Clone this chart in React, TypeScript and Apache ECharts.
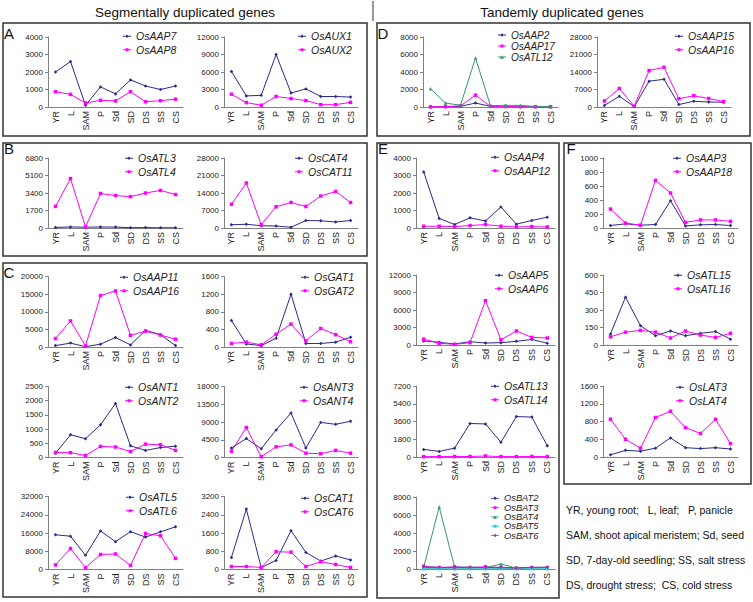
import React, { useEffect, useRef } from "react";
import * as echarts from "echarts";

const CATS = ["YR", "L", "SAM", "P", "Sd", "SD", "DS", "SS", "CS"];

// Panel A
const OsAAP7 = [2000, 2600, 100, 1150, 750, 1550, 1200, 1000, 1200];
const OsAAP8 = [870, 720, 230, 380, 350, 870, 300, 360, 450];
const OsAUX1 = [6100, 1900, 2000, 9000, 2400, 3100, 1800, 1800, 1700];
const OsAUX2 = [2200, 750, 300, 1800, 1450, 1100, 400, 400, 800];
// Panel B
const OsATL3 = [60, 100, 80, 100, 90, 30, 40, 20, 20];
const OsATL4 = [2100, 4800, 100, 3350, 3150, 3050, 3400, 3650, 3250];
const OsCAT4 = [1300, 1500, 900, 800, 300, 3000, 2900, 2400, 3000];
const OsCAT11 = [9500, 18000, 1300, 8500, 10200, 8600, 12800, 14600, 10200];
// Panel C
const OsAAP11 = [400, 1100, 100, 800, 2700, 600, 4700, 3500, 400];
const OsAAP16 = [2400, 7400, 300, 14600, 15900, 3300, 4500, 3400, 2200];
const OsGAT1 = [600, 70, 30, 200, 1200, 80, 80, 110, 220];
const OsGAT2 = [80, 110, 50, 290, 520, 140, 420, 280, 120];
const OsANT1 = [150, 800, 660, 1150, 1900, 410, 250, 350, 400];
const OsANT2 = [175, 170, 70, 390, 370, 210, 470, 450, 250];
const OsANT3 = [2400, 4800, 2200, 7000, 11300, 2400, 8900, 8400, 9200];
const OsANT4 = [1600, 7600, 200, 2700, 3200, 1100, 950, 1800, 1100];
const OsATL5 = [15200, 14600, 6200, 16900, 12200, 16600, 14200, 16500, 18700];
const OsATL6 = [2000, 9200, 800, 6600, 6800, 1800, 15800, 14800, 4900];
const OsCAT1 = [530, 2650, 80, 400, 1700, 750, 370, 590, 420];
const OsCAT6 = [130, 130, 90, 780, 760, 130, 340, 220, 90];
// Panel D
const OsAAP2 = [10, 20, 80, 450, 80, 50, 30, 20, 20];
const OsAAP17 = [20, 40, 130, 1350, 70, 50, 40, 30, 30];
const OsATL12 = [2100, 450, 200, 5600, 150, 200, 180, 60, 40];
const OsAAP15 = [600, 4300, 150, 10300, 11100, 1000, 2300, 2000, 1900];
// Panel E
const OsAAP4 = [3200, 550, 200, 580, 400, 1200, 220, 430, 620];
const OsAAP12 = [100, 100, 80, 140, 200, 100, 60, 80, 60];
const OsAAP5 = [700, 460, 170, 570, 340, 400, 630, 950, 300];
const OsAAP6 = [1000, 300, 100, 400, 7600, 900, 2400, 1300, 1200];
const OsATL13 = [770, 570, 900, 3400, 3350, 1500, 4100, 4050, 1150];
const OsATL14 = [40, 40, 50, 50, 100, 40, 40, 50, 40];
const OsBAT2 = [150, 100, 150, 100, 150, 100, 100, 150, 150];
const OsBAT3 = [300, 150, 250, 150, 250, 150, 100, 150, 150];
const OsBAT4 = [200, 6900, 200, 200, 150, 550, 100, 150, 150];
const OsBAT5 = [40, 30, 20, 30, 30, 40, 30, 30, 30];
const OsBAT6 = [250, 200, 150, 200, 150, 200, 100, 200, 200];
// Panel F
const OsAAP3 = [35, 60, 40, 50, 390, 30, 45, 50, 35];
const OsAAP18 = [270, 70, 40, 680, 500, 80, 115, 115, 95];
const OsATL15 = [95, 410, 165, 80, 120, 80, 100, 115, 50];
const OsATL16 = [70, 110, 125, 110, 60, 120, 85, 65, 100];
const OsLAT3 = [50, 150, 130, 200, 430, 210, 190, 210, 180];
const OsLAT4 = [850, 400, 200, 890, 1030, 660, 530, 850, 300];

const NAVY = "#2a2a8a";
const MAG = "#ff00ff";
const GREEN = "#339966";
const CYAN = "#33cccc";
const PURPLE = "#993399";
const FONT = '"Liberation Sans", Arial, sans-serif';

const ICONS: Record<string, string> = {
  diamond: "path://M0,2h12v1.25h-12z M6,0l2.5,2.625l-2.5,2.625l-2.5,-2.625z",
  rect: "path://M0,2h12v1.25h-12z M4,0.5h4.25v4.25h-4.25z",
  triangle: "path://M0,2h12v1.25h-12z M6,0l3,5.25h-6z",
};

type S = { name: string; data: number[]; color: string; symbol: string };
type C = {
  left: number; top: number; width: number; height: number;
  max: number; interval: number; series: S[];
  lx: number; ly: number; step?: number; fs?: number;
};

const nv = (name: string, data: number[]): S => ({ name, data, color: NAVY, symbol: "diamond" });
const mg = (name: string, data: number[]): S => ({ name, data, color: MAG, symbol: "rect" });
const gr = (name: string, data: number[]): S => ({ name, data, color: GREEN, symbol: "triangle" });
const cy = (name: string, data: number[]): S => ({ name, data, color: CYAN, symbol: "rect" });
const pu = (name: string, data: number[]): S => ({ name, data, color: PURPLE, symbol: "diamond" });

const XL = 48, WL = 135, XR = 224, WR = 134;

const CHARTS: C[] = [
  // A
  { left: XL, top: 37, width: WL, height: 70, max: 4000, interval: 1000, series: [nv("OsAAP7", OsAAP7), mg("OsAAP8", OsAAP8)], lx: 135, ly: 36 },
  { left: XR, top: 37, width: WR, height: 70, max: 12000, interval: 3000, series: [nv("OsAUX1", OsAUX1), mg("OsAUX2", OsAUX2)], lx: 310, ly: 36 },
  // B
  { left: XL, top: 158, width: WL, height: 70, max: 6800, interval: 1700, series: [nv("OsATL3", OsATL3), mg("OsATL4", OsATL4)], lx: 137, ly: 158 },
  { left: XR, top: 158, width: WR, height: 70, max: 28000, interval: 7000, series: [nv("OsCAT4", OsCAT4), mg("OsCAT11", OsCAT11)], lx: 307, ly: 158 },
  // C
  { left: XL, top: 276.5, width: WL, height: 70.5, max: 20000, interval: 5000, series: [nv("OsAAP11", OsAAP11), mg("OsAAP16", OsAAP16)], lx: 132, ly: 277 },
  { left: XR, top: 276.5, width: WR, height: 70.5, max: 1600, interval: 400, series: [nv("OsGAT1", OsGAT1), mg("OsGAT2", OsGAT2)], lx: 313, ly: 277 },
  { left: XL, top: 386.5, width: WL, height: 71, max: 2500, interval: 500, series: [nv("OsANT1", OsANT1), mg("OsANT2", OsANT2)], lx: 137, ly: 387 },
  { left: XR, top: 386.5, width: WR, height: 71, max: 18000, interval: 4500, series: [nv("OsANT3", OsANT3), mg("OsANT4", OsANT4)], lx: 312, ly: 387 },
  { left: XL, top: 496.5, width: WL, height: 73, max: 32000, interval: 8000, series: [nv("OsATL5", OsATL5), mg("OsATL6", OsATL6)], lx: 138, ly: 497 },
  { left: XR, top: 496.5, width: WR, height: 73, max: 3200, interval: 800, series: [nv("OsCAT1", OsCAT1), mg("OsCAT6", OsCAT6)], lx: 313, ly: 498 },
  // D
  { left: 423, top: 37, width: 135, height: 70, max: 8000, interval: 2000, series: [nv("OsAAP2", OsAAP2), mg("OsAAP17", OsAAP17), gr("OsATL12", OsATL12)], lx: 510, ly: 35, step: 11, fs: 10 },
  { left: 597, top: 37, width: 134, height: 70, max: 28000, interval: 7000, series: [nv("OsAAP15", OsAAP15), mg("OsAAP16", OsAAP16)], lx: 687, ly: 36 },
  // E
  { left: 416, top: 158, width: 139, height: 70, max: 4000, interval: 1000, series: [nv("OsAAP4", OsAAP4), mg("OsAAP12", OsAAP12)], lx: 503, ly: 157 },
  { left: 416, top: 275, width: 139, height: 70, max: 12000, interval: 3000, series: [nv("OsAAP5", OsAAP5), mg("OsAAP6", OsAAP6)], lx: 507, ly: 275 },
  { left: 416, top: 386, width: 139, height: 71, max: 7200, interval: 1800, series: [nv("OsATL13", OsATL13), mg("OsATL14", OsATL14)], lx: 503, ly: 386 },
  { left: 416, top: 497, width: 139, height: 72, max: 8000, interval: 2000, series: [nv("OsBAT2", OsBAT2), mg("OsBAT3", OsBAT3), gr("OsBAT4", OsBAT4), cy("OsBAT5", OsBAT5), pu("OsBAT6", OsBAT6)], lx: 503, ly: 498.5, step: 9.3, fs: 9.3 },
  // F
  { left: 603, top: 158, width: 135, height: 70, max: 1000, interval: 200, series: [nv("OsAAP3", OsAAP3), mg("OsAAP18", OsAAP18)], lx: 685, ly: 158 },
  { left: 603, top: 275, width: 135, height: 70, max: 600, interval: 150, series: [nv("OsATL15", OsATL15), mg("OsATL16", OsATL16)], lx: 686, ly: 275 },
  { left: 603, top: 386, width: 135, height: 71, max: 1600, interval: 400, series: [nv("OsLAT3", OsLAT3), mg("OsLAT4", OsLAT4)], lx: 688, ly: 387 },
];

const NOTES = [
  "YR, young root;   L, leaf;   P, panicle",
  "SAM, shoot apical meristem; Sd, seed",
  "SD, 7-day-old seedling; SS, salt stress",
  "DS, drought stress;  CS, cold stress",
];

const BOXES = [
  [3, 23, 364, 113], // A
  [3, 143, 364, 113], // B
  [3, 263, 364, 334], // C
  [377, 23, 373, 113], // D
  [377, 143, 182, 455], // E
  [564, 143, 187, 341], // F
];

const LETTERS: [string, number, number][] = [
  ["A", 9, 33], ["B", 9, 148], ["C", 9, 272], ["D", 383, 33], ["E", 383, 148], ["F", 571, 148],
];

function buildOption() {
  const grid: any[] = [], xAxis: any[] = [], yAxis: any[] = [], series: any[] = [], legend: any[] = [];
  CHARTS.forEach((c, i) => {
    grid.push({ left: c.left, top: c.top, width: c.width, height: c.height });
    xAxis.push({
      type: "category", gridIndex: i, data: CATS, boundaryGap: true,
      axisLine: { lineStyle: { color: "#808080", width: 1 } },
      axisTick: { length: 3, lineStyle: { color: "#808080" } },
      axisLabel: { rotate: 90, fontSize: 9, margin: 4, interval: 0, color: "#222", fontFamily: FONT },
    });
    yAxis.push({
      type: "value", gridIndex: i, min: 0, max: c.max, interval: c.interval,
      axisLine: { show: true, lineStyle: { color: "#808080", width: 1 } },
      axisTick: { show: true, length: 3, lineStyle: { color: "#808080" } },
      splitLine: { show: false },
      axisLabel: { fontSize: 8, margin: 5, color: "#222", fontFamily: FONT, formatter: (v: number) => String(v) },
    });
    const fs = c.fs ?? 10.5;
    const step = c.step ?? 13.5;
    c.series.forEach((s, j) => {
      series.push({
        type: "line", name: s.name, data: s.data, xAxisIndex: i, yAxisIndex: i,
        symbol: s.symbol, symbolSize: 3.5, showSymbol: true,
        lineStyle: { width: 1, color: s.color }, itemStyle: { color: s.color },
        emphasis: { disabled: true },
      });
      legend.push({
        left: c.lx - 12, top: c.ly + j * step - fs / 2, padding: 0,
        data: [{ name: s.name, icon: ICONS[s.symbol] }], itemWidth: 8, itemHeight: 3.5, itemGap: 0,
        selectedMode: false,
        textStyle: { fontSize: fs, fontStyle: "italic", fontFamily: FONT, color: "#222" },
      });
    });
  });

  const graphic: any[] = [];
  BOXES.forEach(([x, y, w, h]) => {
    graphic.push({ type: "rect", shape: { x, y, width: w, height: h }, style: { fill: "none", stroke: "#333", lineWidth: 1.5 }, silent: true });
  });
  graphic.push({ type: "line", shape: { x1: 373, y1: 1, x2: 373, y2: 21 }, style: { stroke: "#333", lineWidth: 1 } });
  graphic.push({ type: "text", x: 185, y: 12, style: { text: "Segmentally duplicated genes", font: `13.5px ${FONT}`, fill: "#111", textAlign: "center", textVerticalAlign: "middle", align: "center", verticalAlign: "middle" } });
  graphic.push({ type: "text", x: 562, y: 12, style: { text: "Tandemly duplicated genes", font: `13.5px ${FONT}`, fill: "#111", textAlign: "center", textVerticalAlign: "middle", align: "center", verticalAlign: "middle" } });
  LETTERS.forEach(([t, x, y]) => {
    graphic.push({ type: "text", x, y, style: { text: t, font: `15px ${FONT}`, fill: "#111", textAlign: "center", textVerticalAlign: "middle", align: "center", verticalAlign: "middle" } });
  });
  const noteY = [510, 535, 560, 585];
  NOTES.forEach((t, k) => {
    graphic.push({ type: "text", x: 566, y: noteY[k], style: { text: t, font: `10.5px ${FONT}`, fill: "#111", textAlign: "left", textVerticalAlign: "middle", align: "left", verticalAlign: "middle" } });
  });

  return {
    animation: false,
    backgroundColor: "#fff",
    textStyle: { fontFamily: FONT },
    grid, xAxis, yAxis, series, legend, graphic,
  };
}

export default function App() {
  const ref = useRef<HTMLDivElement>(null);
  useEffect(() => {
    document.body.style.margin = "0";
    const chart = echarts.init(ref.current!, null, { renderer: "svg" });
    chart.setOption(buildOption() as any);
    return () => chart.dispose();
  }, []);
  return <div ref={ref} style={{ position: "fixed", left: 0, top: 0, width: 753, height: 602, background: "#fff" }} />;
}
